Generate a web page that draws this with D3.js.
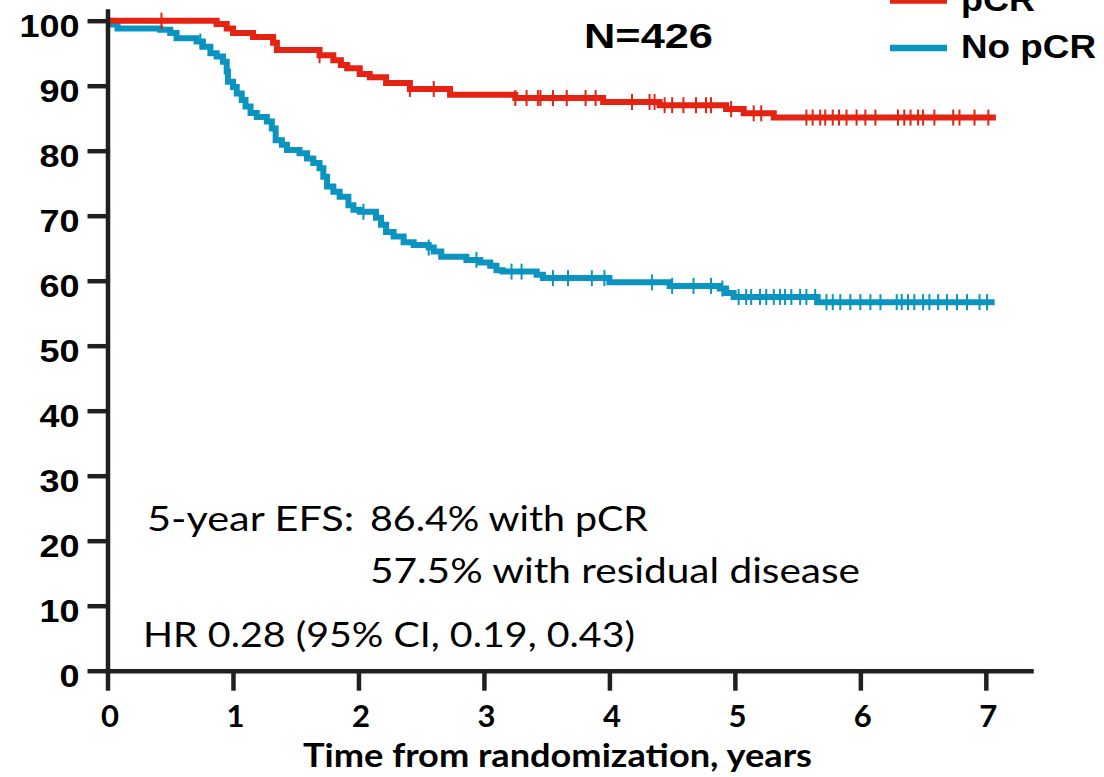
<!DOCTYPE html>
<html>
<head>
<meta charset="utf-8">
<script src="https://cdn.jsdelivr.net/npm/d3@7"></script>
<style>
  html, body { margin: 0; padding: 0; background: #ffffff; }
  svg { display: block; }
</style>
</head>
<body>
<svg id="chart" width="1104" height="777"></svg>
<script>
// Event-free survival (%) by pathological response, step points (years, %)
const pcrTimes = [0, 0.87, 0.95, 1.00, 1.16, 1.32, 1.35, 1.69, 1.80, 1.86, 1.91, 2.01, 2.09, 2.22, 2.41, 2.73, 3.25, 3.95, 4.40, 4.93, 5.07, 5.31];
const pcrSurv  = [100, 99.5, 98.8, 98.1, 97.5, 96.6, 95.5, 94.7, 93.9, 93.2, 92.7, 91.8, 91.3, 90.4, 89.5, 88.6, 88.1, 87.5, 87.0, 86.4, 85.75, 85.1];
const pcrEnd = 7.08;
const pcrCensored = [0.43, 1.69, 2.41, 2.60, 3.25, 3.34, 3.43, 3.45, 3.55, 3.66, 3.81, 3.89, 4.18, 4.32, 4.36, 4.44, 4.50, 4.59, 4.69, 4.77, 4.81, 4.97, 5.15, 5.21, 5.57, 5.62, 5.68, 5.72, 5.78, 5.83, 5.89, 5.97, 6.04, 6.12, 6.30, 6.35, 6.40, 6.46, 6.50, 6.59, 6.74, 6.79, 6.91, 7.02];

const noPcrTimes = [0, 0.03, 0.08, 0.42, 0.50, 0.55, 0.71, 0.76, 0.82, 0.87, 0.92, 0.95, 0.96, 1.00, 1.03, 1.07, 1.10, 1.14, 1.19, 1.27, 1.31, 1.34, 1.39, 1.43, 1.53, 1.59, 1.64, 1.69, 1.72, 1.75, 1.80, 1.85, 1.92, 1.96, 2.01, 2.14, 2.18, 2.22, 2.28, 2.36, 2.44, 2.56, 2.60, 2.66, 2.86, 2.97, 3.05, 3.10, 3.15, 3.42, 3.47, 4.00, 4.48, 4.88, 4.93, 4.99, 5.66];
const noPcrSurv  = [100, 99.4, 98.8, 98.6, 98.1, 97.3, 96.8, 96.0, 95.0, 94.5, 93.7, 92.2, 90.6, 89.8, 88.8, 87.8, 86.8, 85.8, 85.2, 84.5, 83.4, 81.6, 80.9, 80.1, 79.6, 78.8, 78.1, 77.3, 76.0, 74.5, 73.7, 72.9, 71.6, 70.9, 70.6, 69.7, 68.6, 67.5, 66.8, 65.9, 65.5, 65.1, 64.5, 63.7, 63.2, 62.8, 62.3, 61.6, 61.4, 60.9, 60.4, 59.75, 59.2, 58.8, 58.1, 57.5, 56.7];
const noPcrEnd = 7.07;
const noPcrCensored = [0.74, 2.04, 2.56, 2.94, 3.22, 3.30, 3.55, 3.67, 3.86, 3.96, 4.34, 4.50, 4.67, 4.81, 4.90, 5.03, 5.09, 5.13, 5.20, 5.25, 5.31, 5.36, 5.40, 5.45, 5.52, 5.57, 5.64, 5.73, 5.78, 5.84, 5.92, 6.00, 6.08, 6.16, 6.29, 6.33, 6.38, 6.43, 6.50, 6.55, 6.62, 6.69, 6.77, 6.85, 6.95, 7.01];

const xTickValues = [0, 1, 2, 3, 4, 5, 6, 7];
const yTickValues = [0, 10, 20, 30, 40, 50, 60, 70, 80, 90, 100];
const seriesNames = ["pCR", "No pCR"];
const seriesColors = ["#e42313", "#0a94bf"];

const titleText = "N=426";
const xAxisTitle = "Time from randomization, years";
const efsLabel = "5-year EFS:";
const efsLines = ["86.4% with pCR", "57.5% with residual disease"];
const hrText = "HR 0.28 (95% CI, 0.19, 0.43)";

const svg = d3.select("#chart");
const axisColor = "#231f20";
const boldSans = "'Liberation Sans', Arial, sans-serif";
const humanist = "Lato, 'Open Sans', sans-serif";

// Scales: axes run a little past the last tick (7 years, 100 %)
const x = d3.scaleLinear().domain([0, 7.36]).range([107.5, 1031]);
const y = d3.scaleLinear().domain([0, 101.5]).range([670.7, 10.95]);

// Curves
const series = [
  { times: pcrTimes, surv: pcrSurv, end: pcrEnd, cens: pcrCensored, color: seriesColors[0] },
  { times: noPcrTimes, surv: noPcrSurv, end: noPcrEnd, cens: noPcrCensored, color: seriesColors[1] }
];

const stepLine = d3.line()
  .x(d => x(d[0]))
  .y(d => y(d[1]))
  .curve(d3.curveStepAfter);

function survivalAt(s, t) {
  const i = d3.bisectRight(s.times, t) - 1;
  return s.surv[Math.max(0, i)];
}

const curves = svg.append("g");
// lower curve first so the upper one sits on top where they meet at 100 %
[series[1], series[0]].forEach(s => {
  const pts = s.times.map((t, i) => [t, s.surv[i]]);
  pts.push([s.end, s.surv[s.surv.length - 1]]);
  curves.append("path")
    .attr("d", stepLine(pts))
    .attr("fill", "none")
    .attr("stroke", s.color)
    .attr("stroke-width", 6);
  curves.append("g").selectAll("line")
    .data(s.cens)
    .join("line")
    .attr("x1", d => x(d)).attr("x2", d => x(d))
    .attr("y1", d => y(survivalAt(s, d)) - 8)
    .attr("y2", d => y(survivalAt(s, d)) + 8)
    .attr("stroke", s.color)
    .attr("stroke-width", 2);
});

// Axes
const yAxis = d3.axisLeft(y).tickValues(yTickValues).tickSize(20).tickSizeOuter(0).tickPadding(8);
const gy = svg.append("g").attr("transform", `translate(${x(0)},0)`).call(yAxis);
gy.select(".domain").attr("stroke", axisColor).attr("stroke-width", 4.5).attr("stroke-linecap", "square");
gy.selectAll(".tick line").attr("stroke", axisColor).attr("stroke-width", 4.5);
gy.selectAll(".tick text")
  .attr("dy", 15.5)
  .attr("fill", "#000")
  .attr("textLength", d => String(d).length * 20)
  .attr("lengthAdjust", "spacingAndGlyphs")
  .style("font-family", boldSans)
  .style("font-weight", "bold")
  .style("font-size", "32px");

const xAxis = d3.axisBottom(x).tickValues(xTickValues).tickSize(20).tickSizeOuter(0);
const gx = svg.append("g").attr("transform", `translate(0,${y(0)})`).call(xAxis);
gx.select(".domain").attr("stroke", axisColor).attr("stroke-width", 4.5).attr("stroke-linecap", "square");
gx.selectAll(".tick line").attr("stroke", axisColor).attr("stroke-width", 4.5);
gx.selectAll(".tick text")
  .attr("y", 56)
  .attr("dy", null)
  .attr("dx", 2)
  .attr("fill", "#000")
  .style("font-family", humanist)
  .style("font-weight", "bold")
  .style("font-size", "31px");

// Axis title
svg.append("text")
  .attr("x", 303).attr("y", 767)
  .attr("textLength", 509)
  .attr("lengthAdjust", "spacingAndGlyphs")
  .style("font-family", humanist)
  .style("font-weight", "bold")
  .style("font-size", "32px")
  .attr("fill", "#000")
  .text(xAxisTitle);

// Sample size
svg.append("text")
  .attr("x", 584).attr("y", 48)
  .attr("textLength", 129)
  .attr("lengthAdjust", "spacingAndGlyphs")
  .style("font-family", boldSans)
  .style("font-weight", "bold")
  .style("font-size", "35px")
  .attr("fill", "#000")
  .text(titleText);

// Legend
const legendWidths = [74, 135];
const legend = svg.append("g");
seriesNames.forEach((name, i) => {
  const ly = 0.5 + i * 47.5;
  legend.append("line")
    .attr("x1", 890).attr("x2", 947)
    .attr("y1", ly).attr("y2", ly)
    .attr("stroke", seriesColors[i])
    .attr("stroke-width", 6.5);
  legend.append("text")
    .attr("x", 961).attr("y", ly + 10)
    .attr("textLength", legendWidths[i])
    .attr("lengthAdjust", "spacingAndGlyphs")
    .style("font-family", boldSans)
    .style("font-weight", "bold")
    .style("font-size", "34px")
    .attr("fill", "#000")
    .text(name);
});

// Annotations
const ann = svg.append("g")
  .style("font-family", humanist)
  .style("font-size", "34px")
  .attr("fill", "#000");
ann.append("text").attr("x", 147).attr("y", 531)
  .attr("textLength", 207).attr("lengthAdjust", "spacingAndGlyphs")
  .text(efsLabel);
const efsWidths = [278, 490];
efsLines.forEach((t, i) => {
  ann.append("text").attr("x", 370).attr("y", 531 + i * 51.5)
    .attr("textLength", efsWidths[i]).attr("lengthAdjust", "spacingAndGlyphs")
    .text(t);
});
ann.append("text").attr("x", 143).attr("y", 647)
  .attr("textLength", 492).attr("lengthAdjust", "spacingAndGlyphs")
  .text(hrText);
</script>
</body>
</html>
